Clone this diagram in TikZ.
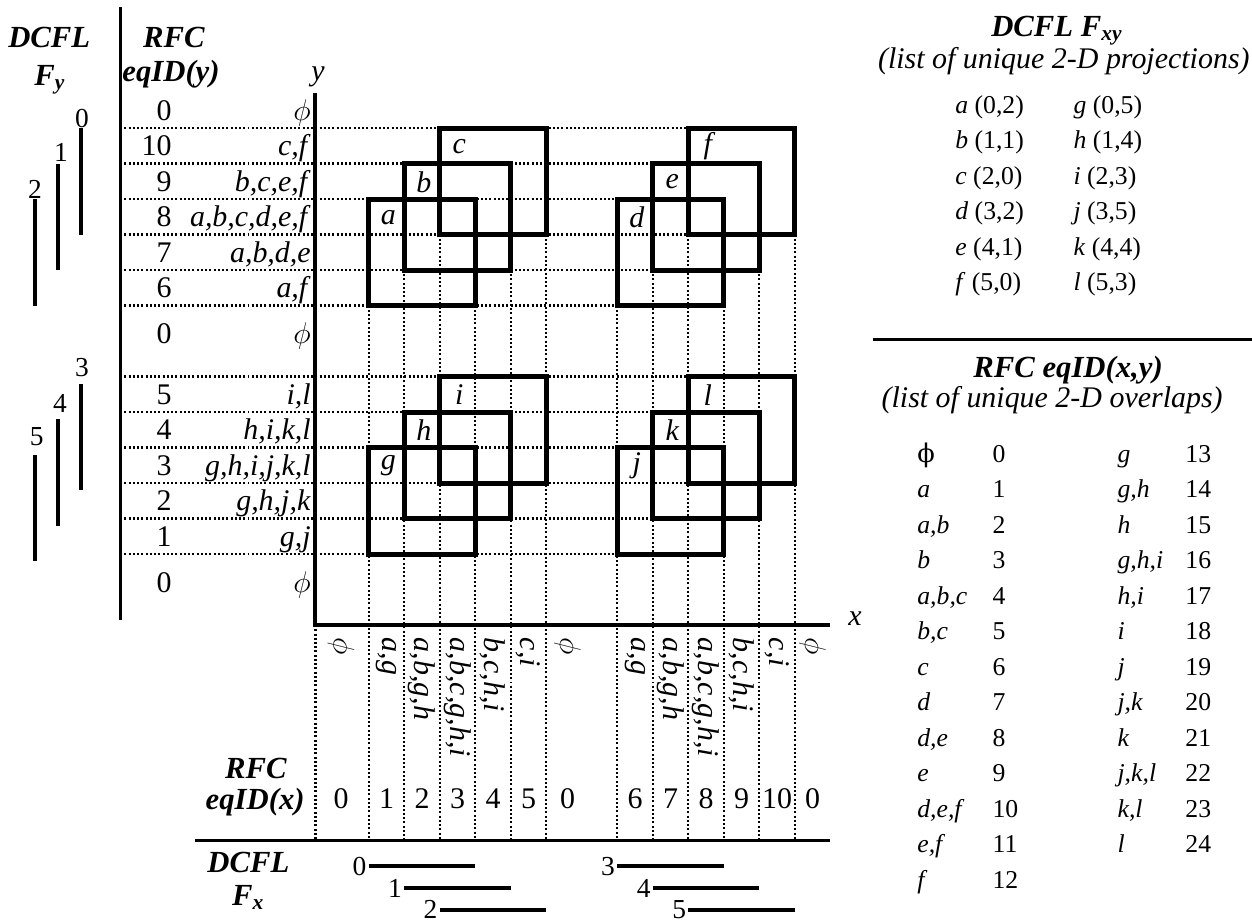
\documentclass[tikz,border=0pt]{standalone}
\usepackage{fontspec}
\setmainfont{Liberation Serif}
\newfontfamily\phifont{DejaVu Serif}

\begin{document}
\begin{tikzpicture}[x=0.5cm, y=0.5cm]

% ---- Styles ----
\tikzset{
  hdr/.style={font=\fontsize{12.3}{14}\selectfont\bfseries\itshape, inner sep=0pt, anchor=base},
  subhdr/.style={font=\fontsize{12}{14}\selectfont\itshape, inner sep=0pt, anchor=base},
  lbl/.style={font=\fontsize{12}{14}\selectfont, inner sep=0pt},
  sqlbl/.style={font=\fontsize{12}{14}\selectfont\itshape, inner sep=0pt},
  barnum/.style={font=\fontsize{11}{13}\selectfont, inner sep=0pt},
  tbl/.style={font=\fontsize{10.3}{12}\selectfont, inner sep=0pt, anchor=base west},
  sq/.style={line width=2pt},
  proj/.style={line width=0.9pt, dash pattern=on 0.8pt off 0.9pt},
  axisline/.style={line width=1.6pt},
  barline/.style={line width=1.6pt},
  divline/.style={line width=1.2pt},
}

\useasboundingbox (-8.887,-8.338) rectangle (26.380,17.606);

% --- Dotted projection lines ---
\foreach \yy/\xe in {14/13.5, 13/12.5, 12/11.5, 11/13.5, 10/12.5, 9/11.5,
                     7/13.5, 6/12.5, 5/11.5, 4/13.5, 3/12.5, 2/11.5}
  \draw[proj] (-5.5,\yy) -- (\xe,\yy);
\foreach \xx/\ys in {0/0, 1.5/9, 4.5/9, 2.5/10, 5.5/10, 3.5/11, 6.5/11,
                     8.5/9, 11.5/9, 9.5/10, 12.5/10, 10.5/11, 13.5/11}
  \draw[proj] (\xx,\ys) -- (\xx,-6.07);

% --- 2-D projections (squares) ---
\foreach \nm/\xx/\yy in {a/1.5/9, b/2.5/10, c/3.5/11, d/8.5/9, e/9.5/10, f/10.5/11,
                         g/1.5/2, h/2.5/3, i/3.5/4, j/8.5/2, k/9.5/3, l/10.5/4} {
  \draw[sq] (\xx,\yy) rectangle ++(3,3);
  \node[sqlbl] (sq-\nm) at (\xx+0.55,\yy+2.48) {\nm};
}

% --- Axes and rules ---
\draw[axisline] (0,15) -- (0,0) -- (14.5,0);
\node[sqlbl, anchor=base] (ylab) at (0.07,15.33) {y};
\node[sqlbl, anchor=base] (xlab) at (15.2,0.0) {x};
\draw[divline] (-5.5,17.41) -- (-5.5,0.14);
\draw[divline] (-3.4,-6.07) -- (14.5,-6.07);
\draw[divline] (15.7,8.03) -- (26.38,8.03);

% --- Headers ---
\node[hdr] (dcflY) at (-7.5,16.28) {DCFL};
\node[hdr] (fY) at (-7.48,15.21) {F\textsubscript{y}};
\node[hdr] (rfcY) at (-3.99,16.28) {RFC};
\node[hdr] (eqidY) at (-4.07,15.32) {eqID(y)};
\node[hdr] (rfcX) at (-1.68,-4.31) {RFC};
\node[hdr] (eqidX) at (-1.70,-5.21) {eqID(x)};
\node[hdr] (dcflX) at (-1.89,-6.96) {DCFL};
\node[hdr] (fX) at (-1.89,-7.89) {F\textsubscript{x}};

% --- eqID(y) column ---
\foreach \yy/\num/\set [count=\k] in {14.5/0/$\phi$, 13.5/10/{c,f}, 12.5/9/{b,c,e,f},
    11.5/8/{a,b,c,d,e,f}, 10.5/7/{a,b,d,e}, 9.5/6/{a,f}, 8.2/0/$\phi$, 6.5/5/{i,l},
    5.5/4/{h,i,k,l}, 4.5/3/{g,h,i,j,k,l}, 3.5/2/{g,h,j,k}, 2.5/1/{g,j}, 1.2/0/$\phi$} {
  \node[lbl, anchor=base east] (eqy\k) at (-4.04,\yy-0.28) {\num};
  \node[lbl, anchor=base east] (sety\k) at (-0.12,\yy-0.28) {\textit{\set}};
}

% --- eqID(x) row ---
\foreach \xx/\num/\set [count=\k] in {0.72/0/$\phi$, 2/1/{a,g}, 3/2/{a,b,g,h},
    4/3/{a,b,c,g,h,i}, 5/4/{b,c,h,i}, 6/5/{c,i}, 7.1/0/$\phi$, 9/6/{a,g},
    10/7/{a,b,g,h}, 11/8/{a,b,c,g,h,i}, 12/9/{b,c,h,i}, 13/10/{c,i}, 14/0/$\phi$} {
  \node[lbl, rotate=-90, anchor=west] (setx\k) at (\xx,-0.35) {\textit{\set}};
  \node[lbl, anchor=base] (eqx\k) at (\xx,-5.17) {\num};
}

% --- DCFL F_y ---
\draw[barline] (-6.6,11) -- (-6.6,14);
\draw[barline] (-7.25,10) -- (-7.25,13);
\draw[barline] (-7.9,9) -- (-7.9,12);
\draw[barline] (-6.6,3.8) -- (-6.6,6.8);
\draw[barline] (-7.25,2.8) -- (-7.25,5.8);
\draw[barline] (-7.9,1.8) -- (-7.9,4.8);
\node[barnum] (fy0) at (-6.58,14.28) {0};
\node[barnum] (fy1) at (-7.17,13.32) {1};
\node[barnum] (fy2) at (-7.9,12.28) {2};
\node[barnum] (fy3) at (-6.58,7.24) {3};
\node[barnum] (fy4) at (-7.2,6.25) {4};
\node[barnum] (fy5) at (-7.85,5.3) {5};

% --- DCFL F_x ---
\foreach \k/\xx/\yy in {0/1.5/-6.8, 1/2.5/-7.41, 2/3.5/-8.02,
                        3/8.5/-6.8, 4/9.5/-7.41, 5/10.5/-8.02} {
  \node[barnum, anchor=east] (fx\k) at (\xx-0.05,\yy) {\k};
  \draw[barline] (\xx,\yy) -- (\xx+3,\yy);
}

% --- DCFL F_xy table ---
\node[hdr] (dcflXY) at (20.89,16.58) {DCFL F\textsubscript{xy}};
\node[subhdr] (projT) at (21.08,15.68) {(list of unique 2-D projections)};
\foreach \la/\pa/\lb/\pb [count=\k] in {a/{(0,2)}/g/{(0,5)}, b/{(1,1)}/h/{(1,4)},
    c/{(2,0)}/i/{(2,3)}, d/{(3,2)}/j/{(3,5)}, e/{(4,1)}/k/{(4,4)}, f/{(5,0)}/l/{(5,3)}} {
  \node[tbl] (prA\k) at (18.01,15.42-\k) {\textit{\la} \pa};
  \node[tbl] (prB\k) at (21.34,15.42-\k) {\textit{\lb} \pb};
}

% --- RFC eqID(x,y) table ---
\node[hdr] (rfcXY) at (21.2,6.98) {RFC eqID(x,y)};
\node[subhdr] (ovT) at (20.75,6.12) {(list of unique 2-D overlaps)};
\foreach \la/\na [count=\k] in {{\upshape\phifont ϕ}/0, a/1, {a,b}/2, b/3, {a,b,c}/4,
    {b,c}/5, c/6, d/7, {d,e}/8, e/9, {d,e,f}/10, {e,f}/11, f/12} {
  \node[tbl] (ovA\k) at (16.94,5.59-\k) {\textit{\la}};
  \node[tbl] (idA\k) at (19.06,5.59-\k) {\na};
}
\foreach \la/\na [count=\k] in {g/13, {g,h}/14, h/15, {g,h,i}/16, {h,i}/17, i/18,
    j/19, {j,k}/20, k/21, {j,k,l}/22, {k,l}/23, l/24} {
  \node[tbl] (ovB\k) at (22.58,5.59-\k) {\textit{\la}};
  \node[tbl] (idB\k) at (24.49,5.59-\k) {\na};
}

\end{tikzpicture}
\end{document}
